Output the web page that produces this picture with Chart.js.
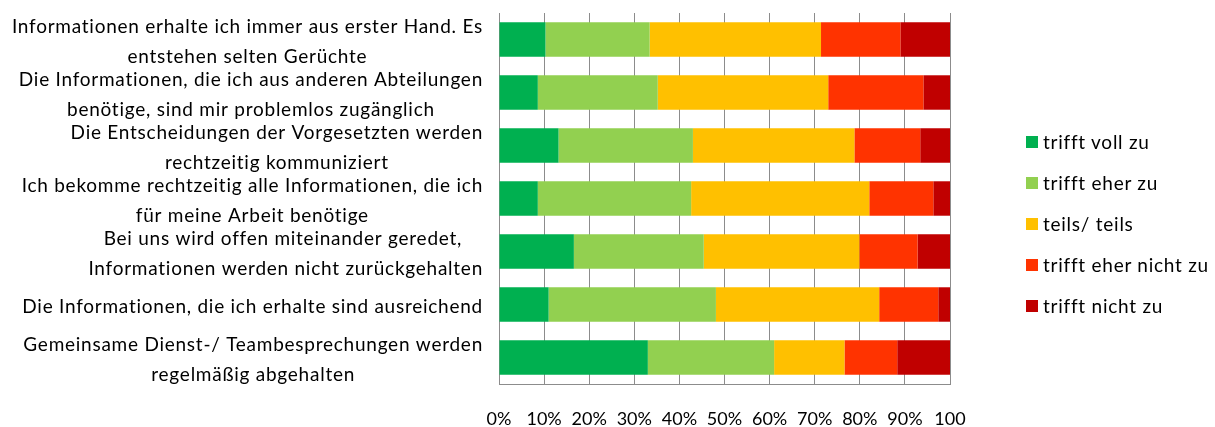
<!DOCTYPE html>
<html>
<head>
<meta charset="utf-8">
<script src="https://cdn.jsdelivr.net/npm/chart.js@4"></script>
<style>
  body { margin: 0; background: #fff; }
  #wrap { position: relative; width: 1215px; height: 427px; }
  #legend { position: absolute; left: 1026px; top: 121px; font-family: Lato, sans-serif; font-size: 19px; letter-spacing: 0.75px; color: #000; }
  .item { display: flex; align-items: center; height: 41px; }
  .box { width: 12px; height: 12px; margin-right: 5px; }
</style>
</head>
<body>
<div id="wrap">
  <canvas id="chart"></canvas>
  <div id="legend"></div>
</div>
<script>
const categories = [
  ['Informationen erhalte ich immer aus erster Hand. Es', 'entstehen selten Gerüchte'],
  ['Die Informationen, die ich aus anderen Abteilungen', 'benötige, sind mir problemlos zugänglich'],
  ['Die Entscheidungen der Vorgesetzten werden', 'rechtzeitig kommuniziert'],
  ['Ich bekomme rechtzeitig alle Informationen, die ich', 'für meine Arbeit benötige'],
  ['Bei uns wird offen miteinander geredet, ', 'Informationen werden nicht zurückgehalten'],
  ['Die Informationen, die ich erhalte sind ausreichend'],
  ['Gemeinsame Dienst-/ Teambesprechungen werden', 'regelmäßig abgehalten']
];

const seriesNames = ['trifft voll zu', 'trifft eher zu', 'teils/ teils', 'trifft eher nicht zu', 'trifft nicht zu'];
const seriesColors = ['#00B050', '#92D050', '#FFC000', '#FF3300', '#C00000'];

const trifftVollZu      = [10.3,  8.6, 13.2,  8.6, 16.6, 11.0, 33.0];
const trifftEherZu      = [23.1, 26.6, 29.8, 34.0, 28.8, 37.1, 28.0];
const teilsTeils        = [38.0, 37.8, 35.8, 39.5, 34.5, 36.2, 15.6];
const trifftEherNichtZu = [17.6, 21.1, 14.6, 14.2, 12.9, 13.1, 11.7];
const trifftNichtZu     = [11.0,  5.9,  6.6,  3.7,  7.2,  2.6, 11.7];

const seriesValues = [trifftVollZu, trifftEherZu, teilsTeils, trifftEherNichtZu, trifftNichtZu];

const tickLabels = ['0%', '10%', '20%', '30%', '40%', '50%', '60%', '70%', '80%', '90%', '100'];

const FONT = 'Lato, sans-serif';
const gridColor = '#8c8c8c';

// category labels: each block centered on itself, right edge at the axis
const categoryLabels = {
  id: 'categoryLabels',
  afterDraw(chart) {
    const ctx = chart.ctx;
    const y = chart.scales.y;
    const right = chart.chartArea.left - 16;
    ctx.save();
    ctx.font = '19px ' + FONT;
    ctx.letterSpacing = '0.75px';
    ctx.fillStyle = '#000';
    ctx.textAlign = 'center';
    ctx.textBaseline = 'middle';
    categories.forEach((lines, i) => {
      const cy = y.getPixelForValue(i) + 2;
      const w = Math.max(...lines.map(l => ctx.measureText(l).width));
      const cx = right - w / 2;
      lines.forEach((l, j) => {
        ctx.fillText(l, cx, cy + (j - (lines.length - 1) / 2) * 30);
      });
    });
    ctx.restore();
  }
};

new Chart(document.getElementById('chart'), {
  type: 'bar',
  data: {
    labels: categories.map(c => c.join(' ')),
    datasets: seriesNames.map((name, i) => ({
      label: name,
      data: seriesValues[i],
      backgroundColor: seriesColors[i],
      borderWidth: 0,
      categoryPercentage: 1,
      barPercentage: 0.65
    }))
  },
  options: {
    indexAxis: 'y',
    responsive: true,
    maintainAspectRatio: false,
    animation: false,
    layout: { padding: { top: 13, right: 265, left: 0, bottom: 0 } },
    scales: {
      x: {
        stacked: true,
        min: 0,
        max: 100,
        grid: { color: gridColor, drawTicks: false },
        border: { color: gridColor },
        ticks: {
          stepSize: 10,
          padding: 24,
          color: '#000',
          font: { family: FONT, size: 18 },
          callback: (v, i) => tickLabels[i]
        },
        afterFit: (s) => { s.height = 43; }
      },
      y: {
        stacked: true,
        grid: { display: false },
        border: { color: gridColor },
        ticks: { display: false },
        afterFit: (s) => { s.width = 499; }
      }
    },
    plugins: {
      legend: { display: false },
      tooltip: { enabled: false }
    }
  },
  plugins: [categoryLabels]
});

const legend = document.getElementById('legend');
seriesNames.forEach((name, i) => {
  const row = document.createElement('div');
  row.className = 'item';
  row.innerHTML = '<div class="box" style="background:' + seriesColors[i] + '"></div><span>' + name + '</span>';
  legend.appendChild(row);
});
</script>
</body>
</html>
